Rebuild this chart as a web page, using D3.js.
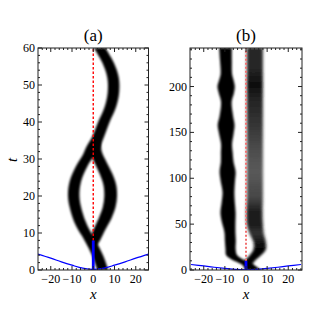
<!DOCTYPE html>
<html>
<head>
<meta charset="utf-8">
<script src="https://cdn.jsdelivr.net/npm/d3@7"></script>
<style>
body { margin: 0; background: #fff; }
</style>
</head>
<body>
<script>
// panel (a): soliton tracks, [t, x, half width]
var aTrackL = [[0,4.5,2.6],[4,2,2.6],[8,-1.5,2.6],[12,-5.5,2.7],[16,-8,2.7],[20,-9.2,2.7],[24,-8.4,2.7],[28,-5.5,2.7],[31,-2.2,2.8],[33,-0.3,3.2],[36,2.3,2.8],[40,5,2.7],[44,8,2.7],[48,9.5,2.7],[52,9.3,2.7],[56,7,2.7],[60,3,2.7]];
var aTrackR = [[6.5,0,1.5],[8,0.8,2.4],[11,3,2.8],[14,5.6,3],[17,7.5,3],[20,8.2,3],[23,7.8,3],[26,6,3],[29,3.5,2.9],[32,1.2,2.8],[34,1.4,2.2],[35.5,1.8,1.2]];
// panel (b): [t, x, half width]
var bTrackL = [[0,4.5,2.4],[4,2.2,2.5],[8,-1,2.6],[12,-4.5,2.7],[16,-6.8,2.6],[23,-7.3,2.4],[32,-7.4,2.6],[41,-7.6,2.6],[52,-8.2,3.2],[62,-8.5,3.6],[74,-8.4,3.1],[85,-8.3,2.8],[97,-8.6,3.4],[107,-8.7,3.8],[118,-8.9,3],[128,-9.1,2.8],[137,-9.2,2.6],[148,-9.3,3.4],[158,-9.4,4],[168,-9.3,3.2],[183,-9.3,2.5],[193,-9.3,3.6],[200,-9.4,4.1],[207,-9.3,3.4],[214,-9.3,2.7],[228,-9.5,2.8],[242,-9.7,3]];
// gray track: [t, x, half width, darkness]
var bTrackR = [[0,2,2.2,1],[6,1,2.2,1],[10,1.8,2.4,1],[15,4,2.6,1],[22,6.4,2.9,1],[30,6.5,2.9,0.92],[40,5,3.4,0.8],[50,4.2,3.8,0.9],[62,4,3.8,0.9],[80,4.2,3.8,0.72],[107,4.2,3.8,0.65],[130,4.2,3.8,0.7],[160,4.2,3.8,0.8],[185,4.2,3.8,0.86],[202,4.2,3.8,0.95],[220,4.2,3.8,0.85],[242,4.2,3.8,0.85]];
// trap potential, drawn in t units
var wellX = [-26,-20,-15,-10,-5,0,5,10,15,20,26];
var aWellT = [4.3,3.2,2.2,1.3,0.5,0.15,0.5,1.3,2.2,3.2,4.3];
var bWellT = [6,4.4,3,1.8,0.7,0.2,0.7,1.8,3,4.4,6];
var xTicks = [-20,-10,0,10,20];
var aTTicks = [0,10,20,30,40,50,60];
var bTTicks = [0,50,100,150,200];

var serif = "'Liberation Serif', 'Times New Roman', Times, serif";

var svg = d3.select("body").append("svg")
    .attr("width", 327)
    .attr("height", 327)
    .attr("font-family", serif);

var defs = svg.append("defs");
defs.append("filter").attr("id", "blur").attr("x", "-50%").attr("y", "-10%").attr("width", "200%").attr("height", "120%")
    .append("feGaussianBlur").attr("stdDeviation", "1.2");
defs.append("filter").attr("id", "blurWide").attr("x", "-50%").attr("y", "-10%").attr("width", "200%").attr("height", "120%")
    .append("feGaussianBlur").attr("stdDeviation", "1.6 1.2");

function toObj(arr) {
    return arr.map(function(d) { return {t: d[0], x: d[1], w: d[2], k: d[3]}; });
}

function drawPanel(id, title, left, right, xDom, tMax, tTicks, tMinor, tracks, grayTrack, wellT, blueTop, redStyle) {
    var top = 48, bottom = 270;
    var x = d3.scaleLinear().domain(xDom).range([left, right]);
    var y = d3.scaleLinear().domain([0, tMax]).range([bottom, top]);
    var g = svg.append("g");

    defs.append("clipPath").attr("id", "clip" + id)
        .append("rect").attr("x", left).attr("y", top).attr("width", right - left).attr("height", bottom - top);

    var plot = g.append("g").attr("clip-path", "url(#clip" + id + ")");

    var area = d3.area()
        .y(function(d) { return y(d.t); })
        .x0(function(d) { return x(d.x - d.w); })
        .x1(function(d) { return x(d.x + d.w); })
        .curve(d3.curveCatmullRom);

    if (grayTrack != null) {
        var data = toObj(grayTrack);
        var grad = defs.append("linearGradient").attr("id", "grad" + id)
            .attr("gradientUnits", "userSpaceOnUse")
            .attr("x1", 0).attr("x2", 0).attr("y1", y(0)).attr("y2", y(tMax));
        grad.selectAll("stop").data(data).enter().append("stop")
            .attr("offset", function(d) { return d.t / tMax; })
            .attr("stop-color", function(d) { return d3.interpolateRgb("#fff", "#000")(d.k); });
        plot.append("path")
            .attr("d", area(data))
            .attr("fill", "url(#grad" + id + ")")
            .attr("filter", "url(#blurWide)");
    }

    tracks.forEach(function(tr) {
        plot.append("path")
            .attr("d", area(toObj(tr)))
            .attr("fill", "#000")
            .attr("filter", "url(#blur)");
    });

    // red marker line
    plot.append("line")
        .attr("x1", x(0)).attr("x2", x(0))
        .attr("y1", y(blueTop)).attr("y2", top)
        .attr("stroke", redStyle.color)
        .attr("stroke-width", redStyle.width)
        .attr("stroke-dasharray", redStyle.dash);

    // potential well
    var line = d3.line()
        .x(function(d, i) { return x(wellX[i]); })
        .y(function(d) { return y(d); })
        .curve(d3.curveCatmullRom);
    plot.append("path")
        .attr("d", line(wellT))
        .attr("fill", "none")
        .attr("stroke", "#0000ff")
        .attr("stroke-width", 1.2);

    plot.append("line")
        .attr("x1", x(0)).attr("x2", x(0))
        .attr("y1", y(0)).attr("y2", y(blueTop))
        .attr("stroke", "#0000ff")
        .attr("stroke-width", 2.8);

    // frame
    g.append("rect")
        .attr("x", left).attr("y", top)
        .attr("width", right - left).attr("height", bottom - top)
        .attr("fill", "none")
        .attr("stroke", "#222")
        .attr("stroke-width", 1);

    // ticks, pointing inward on all four sides
    var xMinor = d3.range(-26, 27, 2).filter(function(v) { return v % 10 != 0 && v > xDom[0] && v < xDom[1]; });
    var tMin = d3.range(0, tMax + 0.1, tMinor).filter(function(v) { return tTicks.indexOf(v) < 0; });
    function xTick(vals, len) {
        vals.forEach(function(v) {
            g.append("line").attr("x1", x(v)).attr("x2", x(v)).attr("y1", bottom).attr("y2", bottom - len).attr("stroke", "#222");
            g.append("line").attr("x1", x(v)).attr("x2", x(v)).attr("y1", top).attr("y2", top + len).attr("stroke", "#222");
        });
    }
    function tTick(vals, len) {
        vals.forEach(function(v) {
            g.append("line").attr("x1", left).attr("x2", left + len).attr("y1", y(v)).attr("y2", y(v)).attr("stroke", "#222");
            g.append("line").attr("x1", right).attr("x2", right - len).attr("y1", y(v)).attr("y2", y(v)).attr("stroke", "#222");
        });
    }
    xTick(xTicks, 4);
    xTick(xMinor, 2);
    tTick(tTicks, 4);
    tTick(tMin, 2);

    g.selectAll(".xl").data(xTicks).enter().append("text")
        .attr("x", function(d) { return x(d); })
        .attr("y", 283)
        .attr("text-anchor", "middle")
        .attr("font-size", 12)
        .attr("font-family", serif)
        .attr("fill", "#000")
        .text(function(d) { return d < 0 ? "\u2212" + (-d) : d; });

    g.selectAll(".tl").data(tTicks).enter().append("text")
        .attr("x", left - 3)
        .attr("y", function(d) { return y(d) + 4; })
        .attr("text-anchor", "end")
        .attr("font-size", 12)
        .attr("font-family", serif)
        .attr("fill", "#000")
        .text(function(d) { return d; });

    g.append("text")
        .attr("x", x(0)).attr("y", 299)
        .attr("text-anchor", "middle")
        .attr("font-size", 15)
        .attr("font-style", "italic")
        .attr("font-family", serif)
        .attr("fill", "#000")
        .text("x");

    g.append("text")
        .attr("x", x(0)).attr("y", 41)
        .attr("text-anchor", "middle")
        .attr("font-size", 17)
        .attr("font-family", serif)
        .attr("fill", "#000")
        .text(title);
}

drawPanel("a", "(a)", 38, 148.5, [-26, 26], 60, aTTicks, 2, [aTrackL, aTrackR], null, aWellT, 8,
    {color: "#ff0000", width: 1.4, dash: "2.5,2"});
drawPanel("b", "(b)", 190, 302, [-26.5, 26.5], 242, bTTicks, 10, [bTrackL], bTrackR, bWellT, 10,
    {color: "#f07070", width: 2, dash: "2,2"});

svg.append("text")
    .attr("transform", "translate(17,160) rotate(-90)")
    .attr("text-anchor", "middle")
    .attr("font-size", 15)
    .attr("font-style", "italic")
    .attr("font-family", serif)
    .attr("fill", "#000")
    .text("t");
</script>
</body>
</html>
